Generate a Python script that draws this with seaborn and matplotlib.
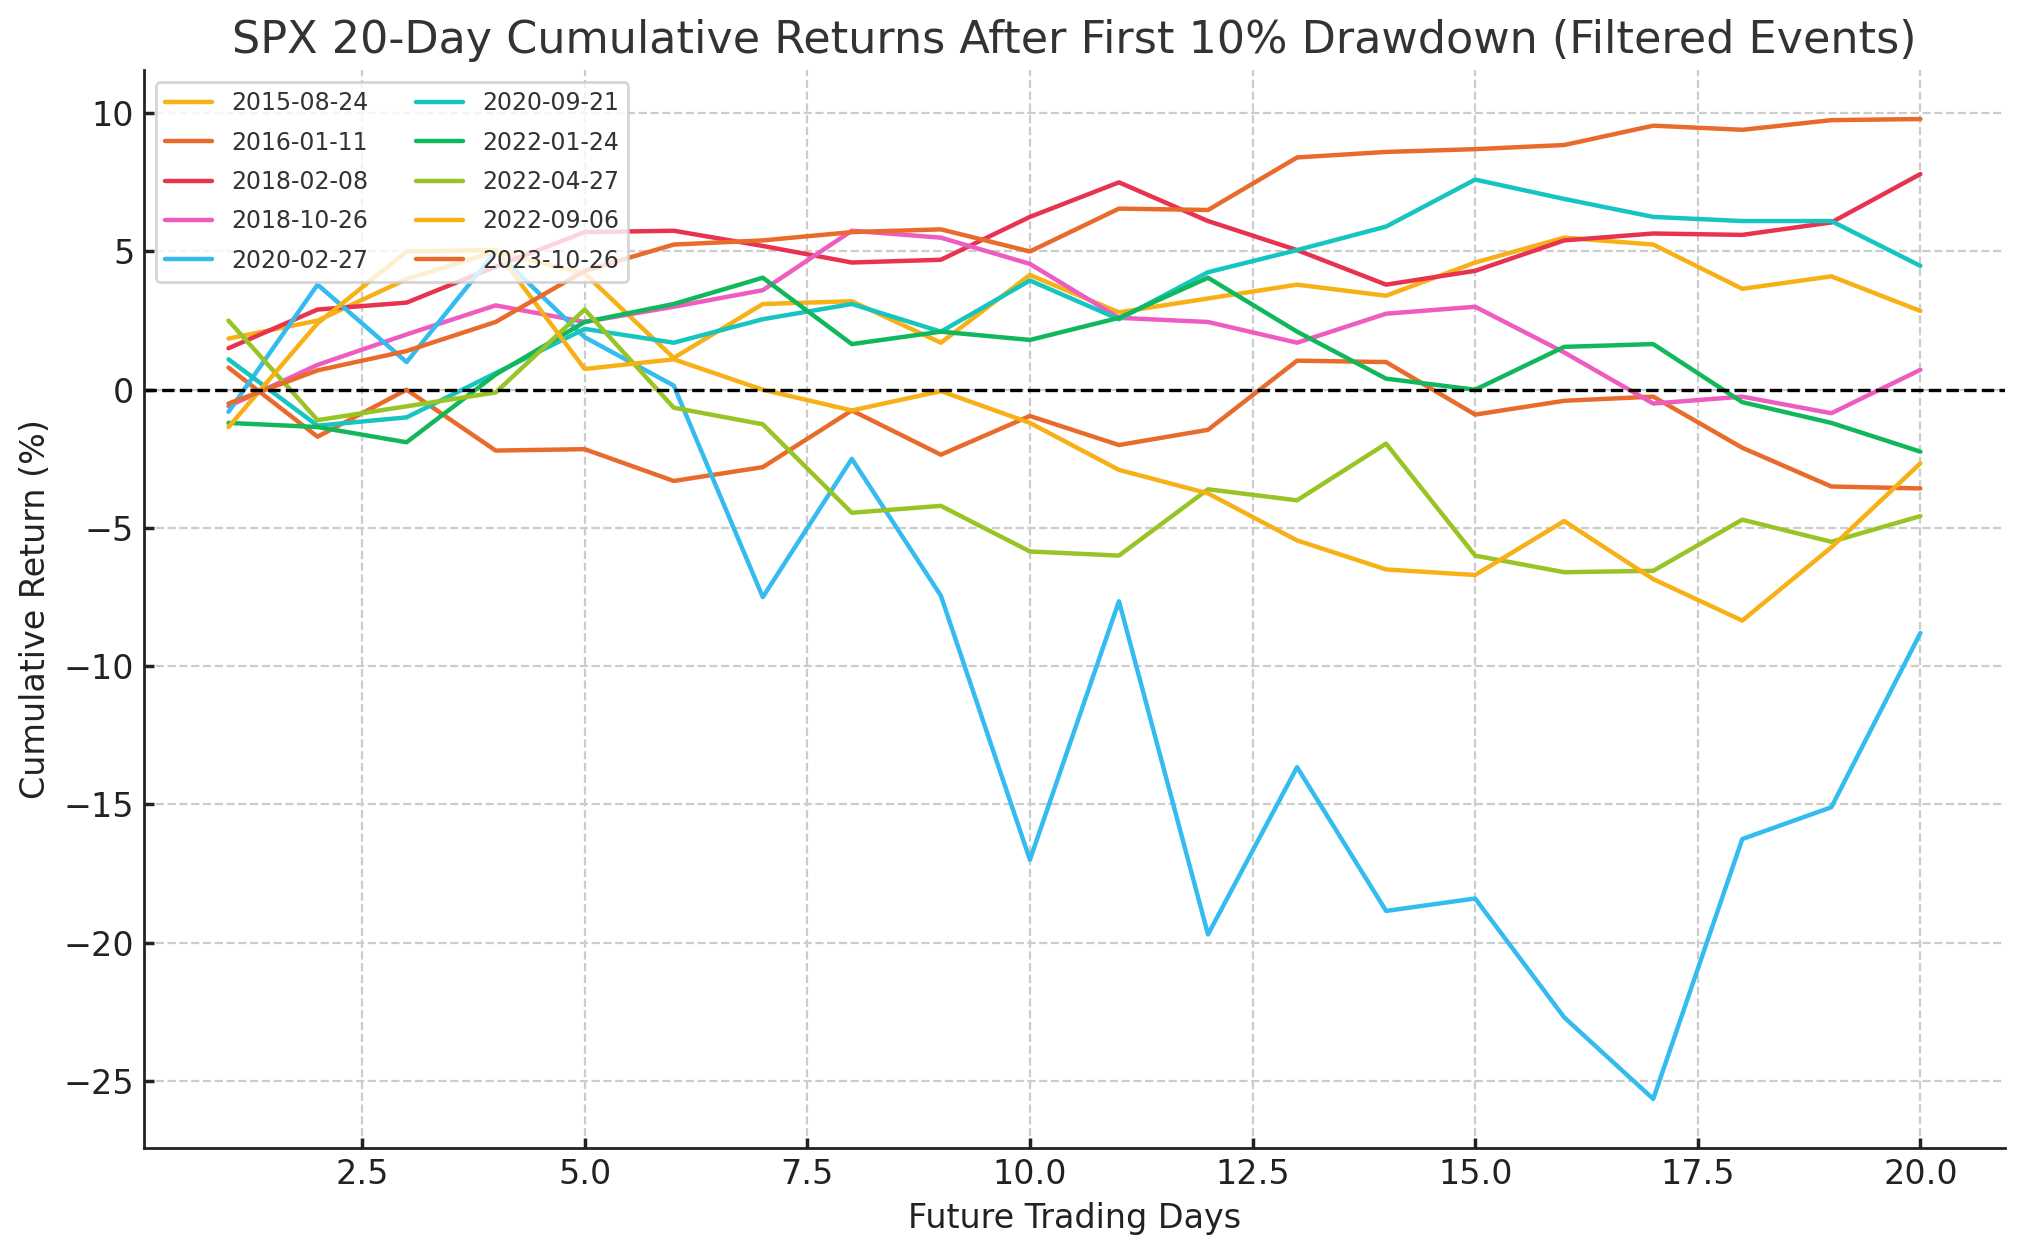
import numpy as np
import pandas as pd
import seaborn as sns
import matplotlib
matplotlib.use('Agg')
import matplotlib.pyplot as plt

# Trading days after the event
days = list(range(1, 21))

events = ['2015-08-24', '2016-01-11', '2018-02-08', '2018-10-26', '2020-02-27',
          '2020-09-21', '2022-01-24', '2022-04-27', '2022-09-06', '2023-10-26']

# cumulative returns (%)
ret_2015_08_24 = [1.85, 2.5, 4.0, 5.0, 4.2, 1.15, 3.1, 3.2, 1.7, 4.15,
                  2.8, 3.3, 3.8, 3.4, 4.6, 5.5, 5.25, 3.65, 4.1, 2.85]
ret_2016_01_11 = [0.8, -1.7, 0.0, -2.2, -2.15, -3.3, -2.8, -0.75, -2.35, -0.95,
                  -2.0, -1.45, 1.05, 1.0, -0.9, -0.4, -0.25, -2.1, -3.5, -3.57]
ret_2018_02_08 = [1.5, 2.9, 3.15, 4.45, 5.7, 5.75, 5.2, 4.6, 4.7, 6.25,
                  7.5, 6.1, 5.05, 3.8, 4.3, 5.4, 5.65, 5.6, 6.05, 7.8]
ret_2018_10_26 = [-0.6, 0.9, 2.0, 3.05, 2.45, 3.0, 3.6, 5.75, 5.5, 4.55,
                  2.6, 2.45, 1.7, 2.75, 3.0, 1.35, -0.5, -0.25, -0.85, 0.72]
ret_2020_02_27 = [-0.8, 3.8, 1.0, 5.0, 1.9, 0.15, -7.5, -2.5, -7.45, -17.0,
                  -7.65, -19.7, -13.65, -18.85, -18.4, -22.7, -25.65, -16.25, -15.1, -8.8]
ret_2020_09_21 = [1.1, -1.3, -1.0, 0.6, 2.2, 1.7, 2.55, 3.1, 2.1, 3.95,
                  2.55, 4.25, 5.05, 5.9, 7.6, 6.9, 6.25, 6.1, 6.1, 4.48]
ret_2022_01_24 = [-1.2, -1.35, -1.9, 0.55, 2.45, 3.1, 4.05, 1.65, 2.1, 1.8,
                  2.6, 4.05, 2.1, 0.4, 0.0, 1.55, 1.65, -0.45, -1.2, -2.24]
ret_2022_04_27 = [2.5, -1.1, -0.6, -0.1, 2.9, -0.65, -1.25, -4.45, -4.2, -5.85,
                  -6.0, -3.6, -4.0, -1.95, -6.0, -6.6, -6.55, -4.7, -5.5, -4.57]
ret_2022_09_06 = [-1.35, 2.4, 5.0, 5.05, 0.75, 1.1, 0.0, -0.75, -0.05, -1.2,
                  -2.9, -3.75, -5.45, -6.5, -6.7, -4.75, -6.85, -8.35, -5.7, -2.66]
ret_2023_10_26 = [-0.5, 0.7, 1.4, 2.45, 4.3, 5.25, 5.4, 5.7, 5.8, 5.0,
                  6.55, 6.5, 8.4, 8.6, 8.7, 8.85, 9.55, 9.4, 9.75, 9.79]

all_returns = [ret_2015_08_24, ret_2016_01_11, ret_2018_02_08, ret_2018_10_26,
               ret_2020_02_27, ret_2020_09_21, ret_2022_01_24, ret_2022_04_27,
               ret_2022_09_06, ret_2023_10_26]

colors = ['#F7B016', '#E96B2C', '#E8334F', '#EE5CC0', '#34BBF0',
          '#16C4C0', '#10B85B', '#98C425', '#F7B016', '#E96B2C']

# long format for seaborn
rows = []
for ev, vals in zip(events, all_returns):
    for d, v in zip(days, vals):
        rows.append({'event': ev, 'day': d, 'ret': v})
df = pd.DataFrame(rows)

sns.set_theme(style='whitegrid')
plt.rcParams['font.family'] = ['DejaVu Sans']
plt.rcParams.update({
    'axes.edgecolor': '#222222',
    'axes.linewidth': 1.0,
    'xtick.bottom': True,
    'ytick.left': True,
    'xtick.direction': 'in',
    'ytick.direction': 'in',
    'xtick.major.size': 3.5,
    'ytick.major.size': 3.5,
    'xtick.color': '#222222',
    'ytick.color': '#222222',
    'xtick.labelsize': 12,
    'ytick.labelsize': 12,
    'text.color': '#333333',
    'axes.labelcolor': '#222222',
})

fig = plt.figure(figsize=(10.12, 6.275), dpi=200)
ax = fig.add_axes([0.0711, 0.0853, 0.9195, 0.8589])

sns.lineplot(data=df, x='day', y='ret', hue='event', palette=dict(zip(events, colors)),
             linewidth=1.6, ax=ax)

ax.axhline(0, color='black', linestyle='--', linewidth=1.2)

ax.grid(True, linestyle='--', color='#cccccc', linewidth=0.8)
sns.despine(ax=ax)

ax.set_title('SPX 20-Day Cumulative Returns After First 10% Drawdown (Filtered Events)',
             fontsize=16, color='#333333')
ax.set_xlabel('Future Trading Days', fontsize=12)
ax.set_ylabel('Cumulative Return (%)', fontsize=12)

handles, labels = ax.get_legend_handles_labels()
ax.legend(handles, labels, loc='upper left', ncol=2, fontsize=8.5, frameon=True,
          edgecolor='#cccccc', framealpha=0.8, labelspacing=0.65)

fig.savefig('out.png', dpi=200)
